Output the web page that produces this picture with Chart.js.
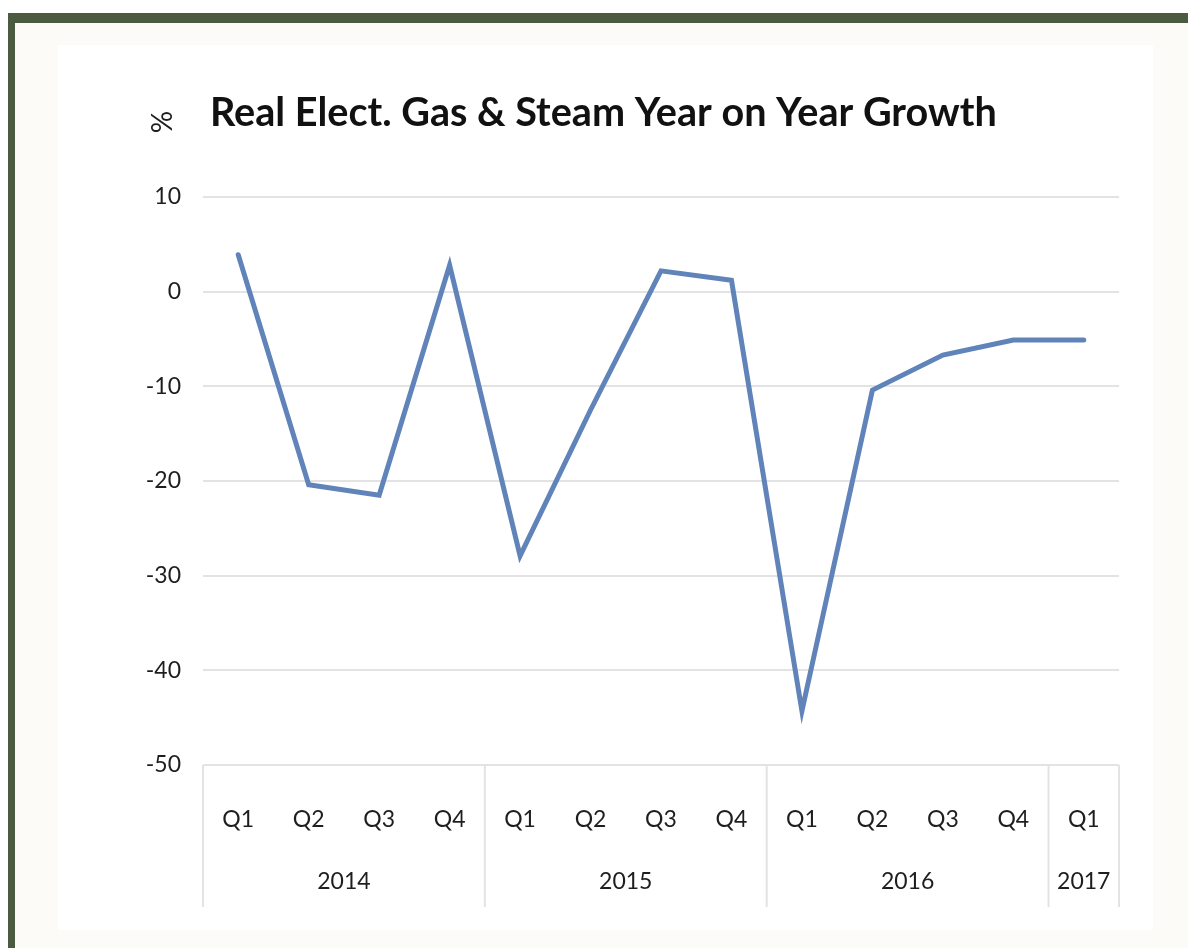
<!DOCTYPE html>
<html>
<head>
<meta charset="utf-8">
<title>Real Elect. Gas & Steam Year on Year Growth</title>
<script src="https://cdn.jsdelivr.net/npm/chart.js@4/dist/chart.umd.min.js"></script>
<style>
    html, body { margin: 0; padding: 0; background: #ffffff; }
    body { width: 1188px; height: 948px; position: relative; overflow: hidden; }
    .frame {
        position: absolute; left: 8px; top: 13px; width: 1180px; height: 935px;
        box-sizing: border-box;
        border-top: 10px solid #4b5b40; border-left: 7px solid #4b5b40;
        background: #fcfbf8;
    }
    .panel { position: absolute; left: 58px; top: 45px; width: 1095px; height: 885px; background: #ffffff; }
    #chart { position: absolute; left: 0; top: 0; }
</style>
</head>
<body>
<div class="frame"></div>
<div class="panel"></div>
<canvas id="chart" width="1188" height="948"></canvas>

<script>
// Chart data
const quarters = ['Q1', 'Q2', 'Q3', 'Q4', 'Q1', 'Q2', 'Q3', 'Q4', 'Q1', 'Q2', 'Q3', 'Q4', 'Q1'];
const years = ['2014', '2015', '2016', '2017'];
const quartersPerYear = [4, 4, 4, 1];
const growth = [3.9, -20.4, -21.5, 2.8, -27.9, -12.5, 2.2, 1.2, -44.3, -10.4, -6.7, -5.1, -5.1];
const yTicks = { min: -50, max: 10, step: 10 };

const titleText = 'Real Elect. Gas & Steam Year on Year Growth';
const unitText = '%';
const fontFamily = 'Lato, "Open Sans", sans-serif';
const lineColor = '#6084b9';
const gridColor = '#e3e3e3';
const labelColor = '#1e1e1e';

// Draws title, rotated unit label, year row and group separators
const decorations = {
    id: 'decorations',
    afterDraw(chart) {
        const ctx = chart.ctx;
        const area = chart.chartArea;
        const x = chart.scales.x;

        ctx.save();

        // Title
        ctx.fillStyle = '#111111';
        ctx.font = 'bold 39.6px ' + fontFamily;
        ctx.textBaseline = 'middle';
        ctx.textAlign = 'left';
        ctx.fillText(titleText, area.left + 7, area.top - 84);

        // Unit label, rotated
        ctx.save();
        ctx.translate(area.left - 40, area.top - 75);
        ctx.rotate(-Math.PI / 2);
        ctx.font = '28px ' + fontFamily;
        ctx.textAlign = 'center';
        ctx.fillStyle = labelColor;
        ctx.fillText(unitText, 0, 0);
        ctx.restore();

        // Year group separators and labels
        const sepBottom = area.bottom + 142;
        ctx.strokeStyle = gridColor;
        ctx.lineWidth = 2;
        ctx.font = '23px ' + fontFamily;
        ctx.textAlign = 'center';
        ctx.fillStyle = labelColor;

        let start = 0;
        const edge = i => {
            if (i <= 0) return area.left;
            if (i >= quarters.length) return area.right;
            return (x.getPixelForValue(i - 1) + x.getPixelForValue(i)) / 2;
        };
        years.forEach((year, g) => {
            const end = start + quartersPerYear[g];
            const left = edge(start);
            const right = edge(end);
            ctx.beginPath();
            ctx.moveTo(left, area.bottom);
            ctx.lineTo(left, sepBottom);
            ctx.stroke();
            if (g === years.length - 1) {
                ctx.beginPath();
                ctx.moveTo(right, area.bottom);
                ctx.lineTo(right, sepBottom);
                ctx.stroke();
            }
            ctx.fillText(year, (left + right) / 2, area.bottom + 117);
            start = end;
        });

        ctx.restore();
    }
};

new Chart(document.getElementById('chart').getContext('2d'), {
    type: 'line',
    data: {
        labels: quarters,
        datasets: [{
            label: 'Growth',
            data: growth,
            borderColor: lineColor,
            borderWidth: 5,
            pointRadius: 0,
            tension: 0,
            borderCapStyle: 'round',
            fill: false
        }]
    },
    options: {
        responsive: false,
        animation: false,
        devicePixelRatio: 1,
        layout: { padding: { left: 123, right: 69, top: 197, bottom: 33 } },
        plugins: {
            legend: { display: false },
            title: { display: false },
            tooltip: { enabled: false }
        },
        scales: {
            x: {
                offset: true,
                afterFit: scale => { scale.height = 150; },
                grid: { display: false },
                border: { display: false },
                ticks: {
                    color: labelColor,
                    font: { family: fontFamily, size: 23 },
                    padding: 33,
                    maxRotation: 0,
                    autoSkip: false
                }
            },
            y: {
                min: yTicks.min,
                max: yTicks.max,
                afterFit: scale => { scale.width = 80; },
                grid: { color: gridColor, lineWidth: 2, drawTicks: false },
                border: { display: false },
                ticks: {
                    stepSize: yTicks.step,
                    color: labelColor,
                    font: { family: fontFamily, size: 23 },
                    padding: 22
                }
            }
        }
    },
    plugins: [decorations]
});
</script>
</body>
</html>
